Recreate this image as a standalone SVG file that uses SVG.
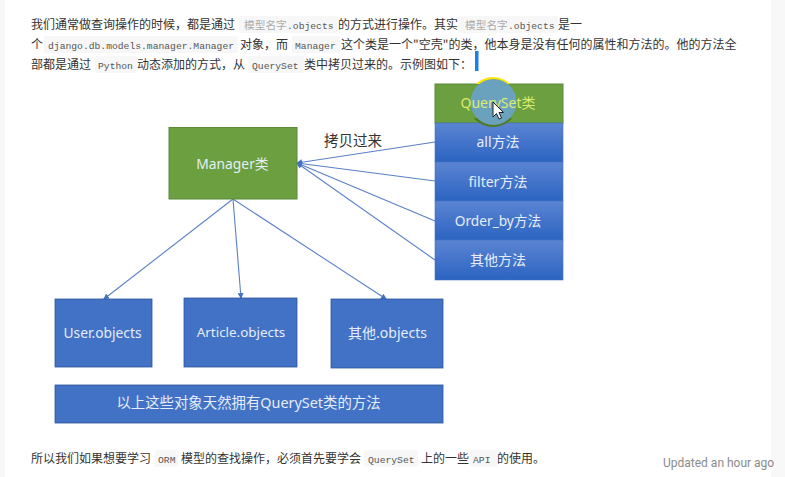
<svg xmlns="http://www.w3.org/2000/svg" width="785" height="477" viewBox="0 0 785 477">
<style>
.t{font-family:"Noto Sans CJK SC","Noto Sans",sans-serif;font-size:12px;fill:#333}
.c{font-family:"Liberation Mono",monospace;font-size:9.7px;fill:#555}
.m{font-family:"Liberation Serif","Noto Sans CJK SC",serif;font-size:10.7px;fill:#aaa}
.chip{fill:#f7f7f7}
.l{font-family:"Noto Sans","Noto Sans CJK SC",sans-serif;font-size:14px;fill:#e6edf8;text-anchor:middle}
.b{fill:url(#g);stroke:#4472c4;stroke-width:.6}
.n{fill:#4172c6;stroke:#2f5597;stroke-width:.8}
.gr{fill:#6b9f3f;stroke:#5b8a38;stroke-width:1}
.e{stroke:#5b80c8;stroke-width:1.1;fill:none;marker-end:url(#a)}
</style>
<defs>
<linearGradient id="g" x1="0" y1="0" x2="0" y2="1"><stop offset="0" stop-color="#5b84d2"/><stop offset="1" stop-color="#2b64c2"/></linearGradient>
<marker id="a" markerWidth="6" markerHeight="6" refX="5" refY="3" orient="auto" markerUnits="userSpaceOnUse"><path d="M0 0L6 3L0 6z" fill="#4472c4"/></marker>
<clipPath id="top"><rect x="420" y="60" width="150" height="24"/></clipPath>
<clipPath id="bot"><rect x="420" y="118" width="150" height="20"/></clipPath>
</defs>
<rect width="785" height="477" fill="#fff"/>
<rect x="0" y="0" width="5" height="477" fill="#f8f8f8"/>
<rect x="771" y="0" width="14" height="477" fill="#f8f8f8"/>
<g id="paragraph-top">
<rect class="chip" x="239" y="16" width="98" height="17" rx="2"/>
<rect class="chip" x="458" y="16" width="100" height="17" rx="2"/>
<rect class="chip" x="44" y="36" width="194" height="17" rx="2"/>
<rect class="chip" x="292" y="36" width="48" height="17" rx="2"/>
<rect class="chip" x="95" y="56" width="42" height="17" rx="2"/>
<rect class="chip" x="248" y="56" width="56" height="17" rx="2"/>
<text class="t" x="31" y="29">我们通常做查询操作的时候，都是通过</text>
<text class="m" x="244" y="29">模型名字</text><text class="c" x="287" y="29">.objects</text>
<text class="t" x="338" y="29">的方式进行操作。其实</text>
<text class="m" x="465" y="29">模型名字</text><text class="c" x="508" y="29">.objects</text>
<text class="t" x="558" y="29">是一</text>
<text class="t" x="31" y="49">个</text>
<text class="c" x="48" y="49">django.db.models.manager.Manager</text>
<text class="t" x="240" y="49">对象，而</text>
<text class="c" x="295" y="49">Manager</text>
<text class="t" x="341" y="49">这个类是一个"空壳"的类，他本身是没有任何的属性和方法的。他的方法全</text>
<text class="t" x="31" y="69">部都是通过</text>
<text class="c" x="98" y="69">Python</text>
<text class="t" x="137" y="69">动态添加的方式，从</text>
<text class="c" x="252" y="69">QuerySet</text>
<text class="t" x="304" y="69">类中拷贝过来的。示例图如下：</text>
<rect x="475" y="51" width="3.500" height="20" fill="#1a7fef"/>
</g>
<g id="connectors">
<line class="e" x1="435" y1="142" x2="297" y2="163"/>
<line class="e" x1="435" y1="181" x2="297" y2="163"/>
<line class="e" x1="435" y1="221" x2="297" y2="163"/>
<line class="e" x1="435" y1="260" x2="297" y2="163"/>
<line class="e" x1="233" y1="199" x2="104" y2="299"/>
<line class="e" x1="233" y1="199" x2="241" y2="298"/>
<line class="e" x1="233" y1="199" x2="386" y2="299"/>
</g>
<g id="copy-label"><text x="324" y="146" font-family="Noto Sans CJK SC,sans-serif" font-size="14.500" fill="#333">拷贝过来</text></g>
<g id="manager"><rect class="gr" x="169" y="127.500" width="128" height="71.500"/><text class="l" x="232.500" y="169" font-size="13.800" style="font-size:13.800px">Manager类</text></g>
<g id="queryset"><rect class="gr" x="435" y="84" width="128" height="39"/></g>
<g id="all"><rect class="b" x="435" y="123" width="128" height="39"/><text class="l" x="498" y="147">all方法</text></g>
<g id="filter"><rect class="b" x="435" y="162" width="128" height="39"/><text class="l" x="498" y="187">filter方法</text></g>
<g id="orderby"><rect class="b" x="435" y="201" width="128" height="39"/><text class="l" x="498" y="226" style="font-size:13.700px">Order_by方法</text></g>
<g id="other"><rect class="b" x="435" y="240" width="128" height="40"/><text class="l" x="498" y="265">其他方法</text></g>
<g id="user"><rect class="n" x="55" y="299" width="97" height="68"/><text class="l" x="102.500" y="338" style="font-size:13.800px">User.objects</text></g>
<g id="article"><rect class="n" x="184" y="298" width="113" height="69"/><text class="l" x="241" y="337" style="font-size:13.400px">Article.objects</text></g>
<g id="others"><rect class="n" x="331" y="299" width="112" height="69"/><text class="l" x="387.500" y="338">其他.objects</text></g>
<g id="note"><rect class="n" x="55" y="385" width="388" height="38"/><text class="l" x="248.500" y="408" style="font-size:14.400px">以上这些对象天然拥有QuerySet类的方法</text></g>
<g id="pointer">
<circle cx="493" cy="102" r="25" fill="#ffe600" clip-path="url(#top)"/>
<circle cx="493" cy="102" r="25" fill="#4f7a1e" clip-path="url(#bot)"/>
<circle cx="493.500" cy="102" r="23" fill="#6aa2bd"/>
<text x="498" y="108" font-family="Noto Sans,Noto Sans CJK SC,sans-serif" font-size="14" fill="#dcec70" text-anchor="middle">QuerySet类</text>
<path d="M493 102V117L496.500 113.500L499 119L501.500 118L499 112.500L503.500 112.500Z" fill="#fff" stroke="#222" stroke-width="1"/>
</g>
<g id="paragraph-bottom">
<rect class="chip" x="155" y="450" width="23" height="17" rx="2"/>
<rect class="chip" x="364" y="450" width="54" height="17" rx="2"/>
<rect class="chip" x="470" y="450" width="27" height="17" rx="2"/>
<text class="t" x="31" y="463">所以我们如果想要学习</text>
<text class="c" x="158" y="463">ORM</text>
<text class="t" x="181" y="463">模型的查找操作，必须首先要学会</text>
<text class="c" x="368" y="463">QuerySet</text>
<text class="t" x="421" y="463">上的一些</text>
<text class="c" x="473" y="463">API</text>
<text class="t" x="497" y="463">的使用。</text>
</g>
<g id="status"><text x="663" y="467" font-family="Roboto,sans-serif" font-size="12" fill="#8a8a8a">Updated an hour ago</text></g>
</svg>
